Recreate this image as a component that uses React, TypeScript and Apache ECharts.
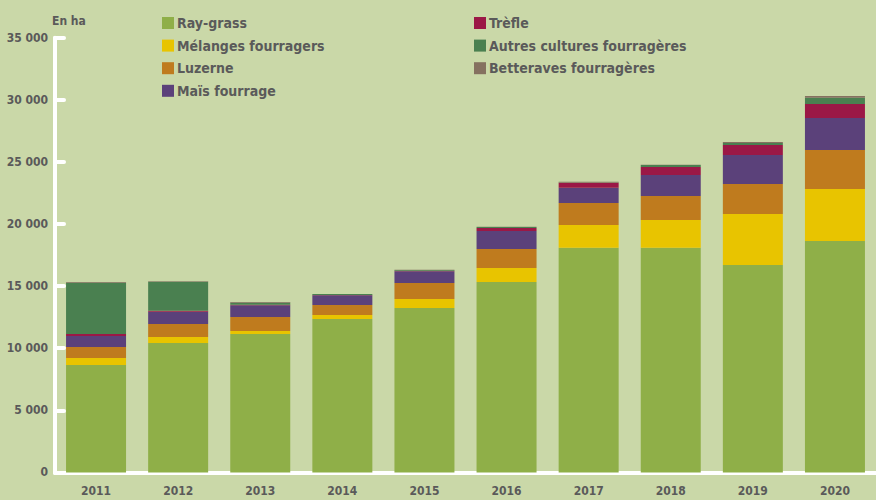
import React, { useEffect, useRef } from "react";
import * as echarts from "echarts";

const years = ["2011", "2012", "2013", "2014", "2015", "2016", "2017", "2018", "2019", "2020"];
const rayGrass = [8650, 10420, 11140, 12350, 13230, 15330, 18090, 18090, 16700, 18630];
const melanges = [560, 480, 240, 320, 730, 1120, 1825, 2230, 4100, 4190];
const luzerne = [885, 1050, 1130, 810, 1290, 1530, 1775, 1930, 2420, 3140];
const mais = [885, 990, 940, 780, 940, 1450, 1230, 1690, 2330, 2570];
const trefle = [160, 80, 50, 20, 50, 240, 400, 650, 810, 1130];
const autres = [4130, 2330, 160, 90, 50, 80, 20, 160, 160, 510];
const betteraves = [60, 50, 60, 0, 20, 20, 60, 20, 80, 130];
const yTicks = { min: 0, max: 35000, interval: 5000 };

const seriesDefs = [
  { name: "Ray-grass", data: rayGrass, color: "#8faf48" },
  { name: "Mélanges fourragers", data: melanges, color: "#e8c400" },
  { name: "Luzerne", data: luzerne, color: "#bf7b1e" },
  { name: "Maïs fourrage", data: mais, color: "#5b417a" },
  { name: "Trèfle", data: trefle, color: "#9b1846" },
  { name: "Autres cultures fourragères", data: autres, color: "#4a8050" },
  { name: "Betteraves fourragères", data: betteraves, color: "#857160" },
];

const FONT = "'Liberation Sans Narrow', 'DejaVu Sans Condensed', 'Roboto', sans-serif";
const TXT = "#5a5a5a";

export default function App() {
  const ref = useRef<HTMLDivElement>(null);
  useEffect(() => {
    document.body.style.margin = "0";
    const chart = echarts.init(ref.current!, null, { renderer: "svg" });
    const legendCommon = {
      orient: "vertical" as const,
      top: 15,
      padding: 0,
      itemWidth: 12,
      itemHeight: 12,
      itemGap: 6.6,
      icon: "rect",
      selectedMode: false,
      textStyle: {
        fontFamily: FONT,
        fontWeight: "bold" as const,
        fontSize: 14,
        lineHeight: 16,
        color: TXT,
        padding: [0, 0, 0, -2],
      },
    };
    chart.setOption({
      animation: false,
      backgroundColor: "#cad8a8",
      textStyle: { fontFamily: FONT },
      legend: [
        { ...legendCommon, left: 162, data: seriesDefs.slice(0, 4).map((s) => s.name) },
        { ...legendCommon, left: 474, data: seriesDefs.slice(4).map((s) => s.name) },
      ],
      graphic: [
        {
          type: "text",
          left: 52,
          top: 15,
          style: {
            text: "En ha",
            fontFamily: FONT,
            fontWeight: "bold",
            fontSize: 12,
            fill: TXT,
          },
        },
      ],
      grid: { left: 55, right: -2, top: 37.7, bottom: 27.6, containLabel: false },
      xAxis: {
        type: "category",
        data: years,
        axisTick: { show: false },
        axisLine: { lineStyle: { color: "#ffffff", width: 4 } },
        axisLabel: {
          color: TXT,
          fontFamily: FONT,
          fontWeight: "bold",
          fontSize: 12,
          margin: 13,
        },
      },
      yAxis: {
        type: "value",
        min: yTicks.min,
        max: yTicks.max,
        interval: yTicks.interval,
        splitLine: { show: false },
        axisLine: { show: true, lineStyle: { color: "#ffffff", width: 4, cap: "round" } },
        axisTick: {
          show: true,
          inside: true,
          length: 9,
          lineStyle: { color: "#ffffff", width: 4, cap: "round" },
        },
        axisLabel: {
          color: TXT,
          fontFamily: FONT,
          fontWeight: "bold",
          fontSize: 12,
          margin: 7,
          formatter: (v: number) => String(v).replace(/\B(?=(\d{3})+(?!\d))/g, " "),
        },
      },
      series: seriesDefs.map((s) => ({
        type: "bar",
        name: s.name,
        stack: "total",
        data: s.data,
        barWidth: 60,
        itemStyle: { color: s.color },
      })),
    });
    return () => chart.dispose();
  }, []);
  return <div ref={ref} style={{ width: 876, height: 500 }} />;
}
